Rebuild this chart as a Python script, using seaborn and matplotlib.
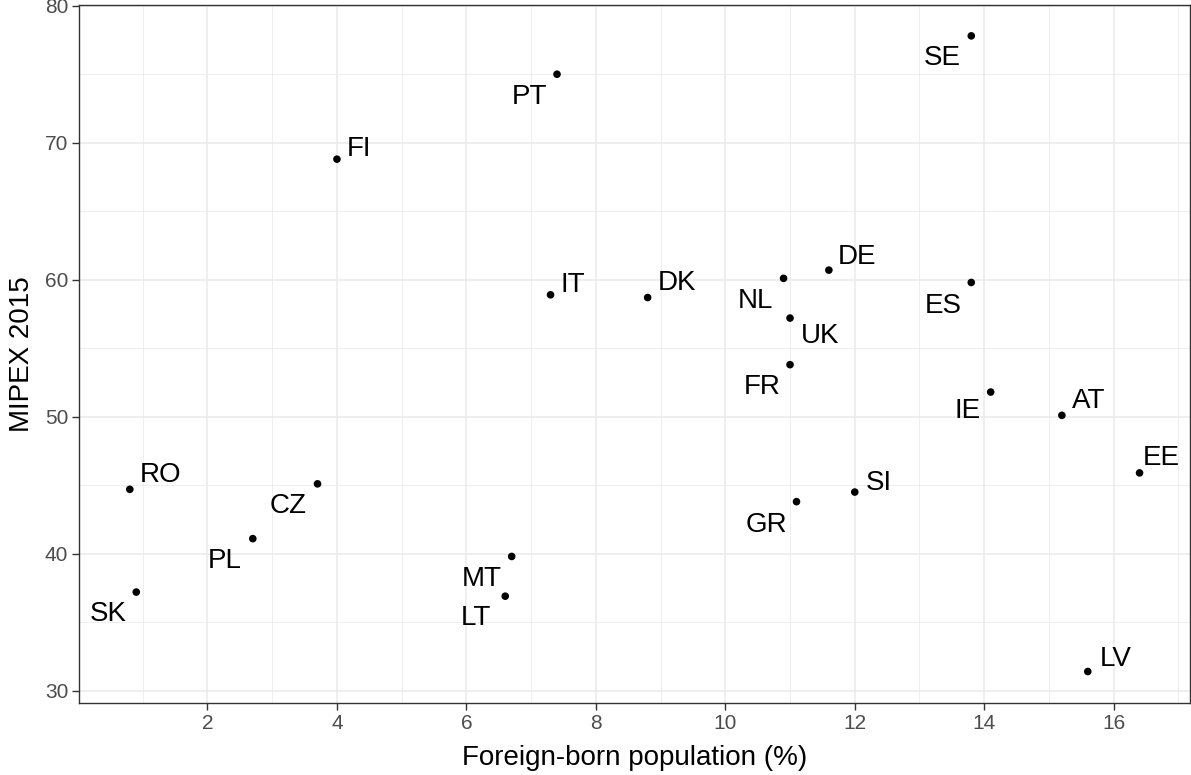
import matplotlib
matplotlib.use("Agg")
import matplotlib.pyplot as plt
from matplotlib.ticker import MultipleLocator
import seaborn as sns
import pandas as pd

# Datos
paises = ["SE", "PT", "FI", "IT", "DK", "NL", "DE", "UK", "ES", "FR",
          "IE", "AT", "EE", "SI", "GR", "RO", "CZ", "PL", "SK", "MT", "LT", "LV"]
extranjeros = [13.8, 7.4, 4.0, 7.3, 8.8, 10.9, 11.6, 11.0, 13.8, 11.0,
               14.1, 15.2, 16.4, 12.0, 11.1, 0.8, 3.7, 2.7, 0.9, 6.7, 6.6, 15.6]
mipex = [77.8, 75.0, 68.8, 58.9, 58.7, 60.1, 60.7, 57.2, 59.8, 53.8,
         51.8, 50.1, 45.9, 44.5, 43.8, 44.7, 45.1, 41.1, 37.2, 39.8, 36.9, 31.4]

datos = pd.DataFrame({"pais": paises, "fb": extranjeros, "mipex": mipex})

# Desplazamiento de cada etiqueta (pixeles, centro del texto respecto al punto)
desplazamientos = {
    "SE": (-29, -19), "PT": (-28, -20), "FI": (22, 13), "IT": (22, 13),
    "DK": (29, 18), "NL": (-28, -20), "DE": (28, 16), "UK": (30, -15),
    "ES": (-28, -21), "FR": (-28, -19), "IE": (-23, -16), "AT": (27, 17),
    "EE": (22, 18), "SI": (24, 12), "GR": (-30, -20), "RO": (31, 17),
    "CZ": (-29, -19), "PL": (-28, -19), "SK": (-28, -19), "MT": (-30, -20),
    "LT": (-29, -19), "LV": (28, 16),
}

sns.set_theme(style="white")
plt.rcParams["font.family"] = ["Liberation Sans", "DejaVu Sans"]

fig = plt.figure(figsize=(11.91, 7.75), dpi=100)
ax = fig.add_axes([0.0666, 0.0925, 0.9326, 0.901])

sns.scatterplot(data=datos, x="fb", y="mipex", color="black", s=30,
                edgecolor="none", ax=ax, zorder=3)

for _, fila in datos.iterrows():
    dx, dy = desplazamientos[fila.pais]
    # el centro de la caja incluye el descendente: bajamos un poco
    ax.annotate(fila.pais, (fila.fb, fila.mipex), xytext=(dx, dy - 3),
                textcoords="offset pixels", ha="center", va="center",
                fontsize=20, color="black")

ax.set_xlim(0.02, 17.18)
ax.set_ylim(29.08, 80.05)
ax.xaxis.set_major_locator(MultipleLocator(2))
ax.xaxis.set_minor_locator(MultipleLocator(1))
ax.yaxis.set_major_locator(MultipleLocator(10))
ax.yaxis.set_minor_locator(MultipleLocator(5))

ax.grid(which="major", color="#EBEBEB", linewidth=1.2, zorder=0)
ax.grid(which="minor", color="#EBEBEB", linewidth=0.6, zorder=0)
ax.set_axisbelow(True)

for lado in ax.spines.values():
    lado.set_color("#333333")
    lado.set_linewidth(1.0)

ax.tick_params(which="major", length=5, width=1.0, color="#333333",
               labelsize=15, labelcolor="#4D4D4D", pad=3,
               bottom=True, left=True)
ax.tick_params(which="minor", length=0)

ax.set_xlabel("Foreign-born population (%)", fontsize=20, color="black", labelpad=8)
ax.set_ylabel("MIPEX 2015", fontsize=20, color="black", labelpad=7)

plt.savefig("out.png", dpi=100)
